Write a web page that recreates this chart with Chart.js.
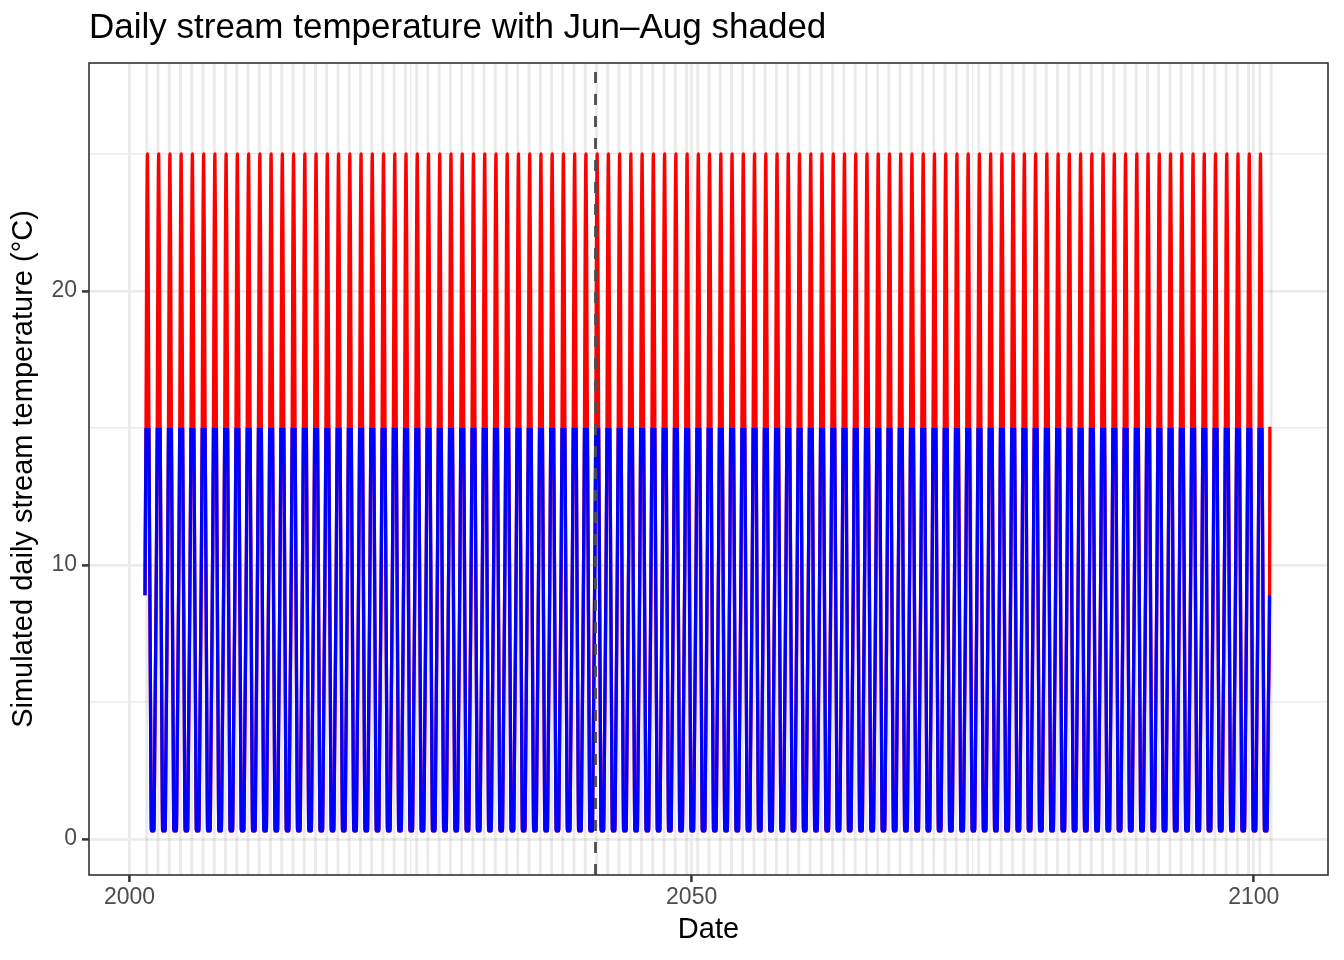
<!DOCTYPE html>
<html>
<head>
<meta charset="utf-8">
<script src="https://cdn.jsdelivr.net/npm/chart.js@4.4.1/dist/chart.umd.min.js"></script>
<style>
  html, body { margin: 0; padding: 0; background: #ffffff; }
</style>
</head>
<body>
<canvas id="stream-temp-graphic" width="1344" height="960"></canvas>
<script>
// years in the simulation (one summer peak each)
var years = [2001, 2002, 2003, 2004, 2005, 2006, 2007, 2008, 2009, 2010,
    2011, 2012, 2013, 2014, 2015, 2016, 2017, 2018, 2019, 2020,
    2021, 2022, 2023, 2024, 2025, 2026, 2027, 2028, 2029, 2030,
    2031, 2032, 2033, 2034, 2035, 2036, 2037, 2038, 2039, 2040,
    2041, 2042, 2043, 2044, 2045, 2046, 2047, 2048, 2049, 2050,
    2051, 2052, 2053, 2054, 2055, 2056, 2057, 2058, 2059, 2060,
    2061, 2062, 2063, 2064, 2065, 2066, 2067, 2068, 2069, 2070,
    2071, 2072, 2073, 2074, 2075, 2076, 2077, 2078, 2079, 2080,
    2081, 2082, 2083, 2084, 2085, 2086, 2087, 2088, 2089, 2090,
    2091, 2092, 2093, 2094, 2095, 2096, 2097, 2098, 2099, 2100, 2101];

// one seasonal cycle (fraction of the year, °C)
var cycleOffsets = [0.17, 0.25, 0.33, 0.40, 0.47, 0.53, 0.60, 0.66, 0.73, 0.80, 0.87, 0.95];
var cycleTemps   = [0.3,  3.5,  7.0,  10.5, 15.0, 21.5, 25.0, 21.5, 15.0, 10.0, 5.0,  0.3];

// the series starts and stops part way through a year
var startOffsets = [0.38];
var startTemps   = [8.9];
var endOffsets = [0.17, 0.30, 0.40, 0.43];
var endTemps   = [0.3,  5.0,  8.9,  15.05];

// Jun-Aug shading (fraction of the year) and the dashed reference date
var summerStart = 0.414;
var summerEnd = 0.666;
var refDate = 2041.45;
var coldLimit = 15;

var xTickLabels = [2000, 2050, 2100];
var yTickLabels = [0, 10, 20];

var allPoints = [];
for (var i = 0; i < years.length; i++) {
    var yr = years[i];
    if (i === 0) {
        for (var k = 0; k < startOffsets.length; k++) allPoints.push({x: yr + startOffsets[k], y: startTemps[k]});
        for (var j = 0; j < cycleOffsets.length; j++) {
            if (cycleOffsets[j] > startOffsets[startOffsets.length - 1]) allPoints.push({x: yr + cycleOffsets[j], y: cycleTemps[j]});
        }
    } else if (i === years.length - 1) {
        for (var k = 0; k < endOffsets.length; k++) allPoints.push({x: yr + endOffsets[k], y: endTemps[k]});
    } else {
        for (var j = 0; j < cycleOffsets.length; j++) allPoints.push({x: yr + cycleOffsets[j], y: cycleTemps[j]});
    }
}
// blue copy keeps only the cool part, drawn on top of the red line
var coolPoints = allPoints.map(function (p) {
    return {x: p.x, y: p.y <= coldLimit ? p.y : null};
});

var fontFamily = '"Liberation Sans", Arimo, Arial, sans-serif';

var summerShade = {
    id: 'summerShade',
    beforeDatasetsDraw: function (chart) {
        var c = chart.ctx, xs = chart.scales.x, area = chart.chartArea;
        c.save();
        c.fillStyle = 'rgba(150,150,150,0.2)';
        years.forEach(function (yr) {
            var a = xs.getPixelForValue(yr + summerStart);
            var b = xs.getPixelForValue(yr + summerEnd);
            c.fillRect(a, area.top, b - a, area.bottom - area.top);
        });
        c.restore();
    },
    afterDatasetsDraw: function (chart) {
        var c = chart.ctx, xs = chart.scales.x, area = chart.chartArea;
        c.save();
        var px = xs.getPixelForValue(refDate);
        c.strokeStyle = '#4D4D4D';
        c.lineWidth = 2.8;
        c.setLineDash([11, 11]);
        c.beginPath();
        c.moveTo(px, area.bottom);
        c.lineTo(px, area.top);
        c.stroke();
        c.setLineDash([]);
        c.strokeStyle = '#333333';
        c.lineWidth = 1.6;
        c.strokeRect(area.left, area.top, area.right - area.left, area.bottom - area.top);
        c.restore();
    }
};

var ctx = document.getElementById('stream-temp-graphic').getContext('2d');

var streamChart = new Chart(ctx, {
    type: 'line',
    data: {
        datasets: [{
            label: 'cool',
            data: coolPoints,
            borderColor: '#0000FF',
            borderWidth: 3.3,
            borderJoinStyle: 'round',
            cubicInterpolationMode: 'monotone',
            pointRadius: 0,
            spanGaps: false
        }, {
            label: 'all',
            data: allPoints,
            borderColor: '#FF0000',
            borderWidth: 3.3,
            borderJoinStyle: 'round',
            cubicInterpolationMode: 'monotone',
            pointRadius: 0
        }]
    },
    options: {
        responsive: false,
        animation: false,
        events: [],
        layout: {padding: {left: 0, right: 16, top: 0, bottom: 0}},
        plugins: {
            legend: {display: false},
            tooltip: {enabled: false},
            title: {
                display: true,
                text: 'Daily stream temperature with Jun–Aug shaded',
                align: 'start',
                fullSize: false,
                color: '#000000',
                font: {family: fontFamily, size: 35, weight: 'normal', lineHeight: 1.2},
                padding: {top: 7, bottom: 14}
            }
        },
        scales: {
            x: {
                type: 'linear',
                min: 1996.4,
                max: 2106.6,
                afterFit: function (scale) { scale.height = 85; },
                border: {display: false},
                grid: {
                    color: '#EBEBEB',
                    lineWidth: function (c) { return xTickLabels.indexOf(c.tick.value) >= 0 ? 2.8 : 1.4; },
                    tickLength: 7,
                    tickWidth: 2.5,
                    tickColor: function (c) { return xTickLabels.indexOf(c.tick.value) >= 0 ? '#333333' : 'rgba(0,0,0,0)'; }
                },
                ticks: {
                    stepSize: 25,
                    includeBounds: false,
                    autoSkip: false,
                    maxRotation: 0,
                    padding: 2,
                    color: '#4D4D4D',
                    font: {family: fontFamily, size: 23},
                    callback: function (v) { return xTickLabels.indexOf(v) >= 0 ? String(v) : ''; }
                },
                title: {
                    display: true,
                    text: 'Date',
                    color: '#000000',
                    font: {family: fontFamily, size: 29, lineHeight: 1.2},
                    padding: {top: 0, bottom: 12.6}
                }
            },
            y: {
                min: -1.31,
                max: 28.32,
                afterFit: function (scale) { scale.width = 89; },
                border: {display: false},
                grid: {
                    color: '#EBEBEB',
                    lineWidth: function (c) { return yTickLabels.indexOf(c.tick.value) >= 0 ? 2.8 : 1.4; },
                    tickLength: 7,
                    tickWidth: 2.5,
                    tickColor: function (c) { return yTickLabels.indexOf(c.tick.value) >= 0 ? '#333333' : 'rgba(0,0,0,0)'; }
                },
                ticks: {
                    stepSize: 5,
                    includeBounds: false,
                    autoSkip: false,
                    padding: 5,
                    color: '#4D4D4D',
                    font: {family: fontFamily, size: 23},
                    callback: function (v) { return yTickLabels.indexOf(v) >= 0 ? String(v) : ''; }
                },
                title: {
                    display: true,
                    text: 'Simulated daily stream temperature (°C)',
                    color: '#000000',
                    font: {family: fontFamily, size: 29, lineHeight: 1.2},
                    padding: {top: 6.6, bottom: 0}
                }
            }
        }
    },
    plugins: [summerShade]
});
</script>
</body>
</html>
